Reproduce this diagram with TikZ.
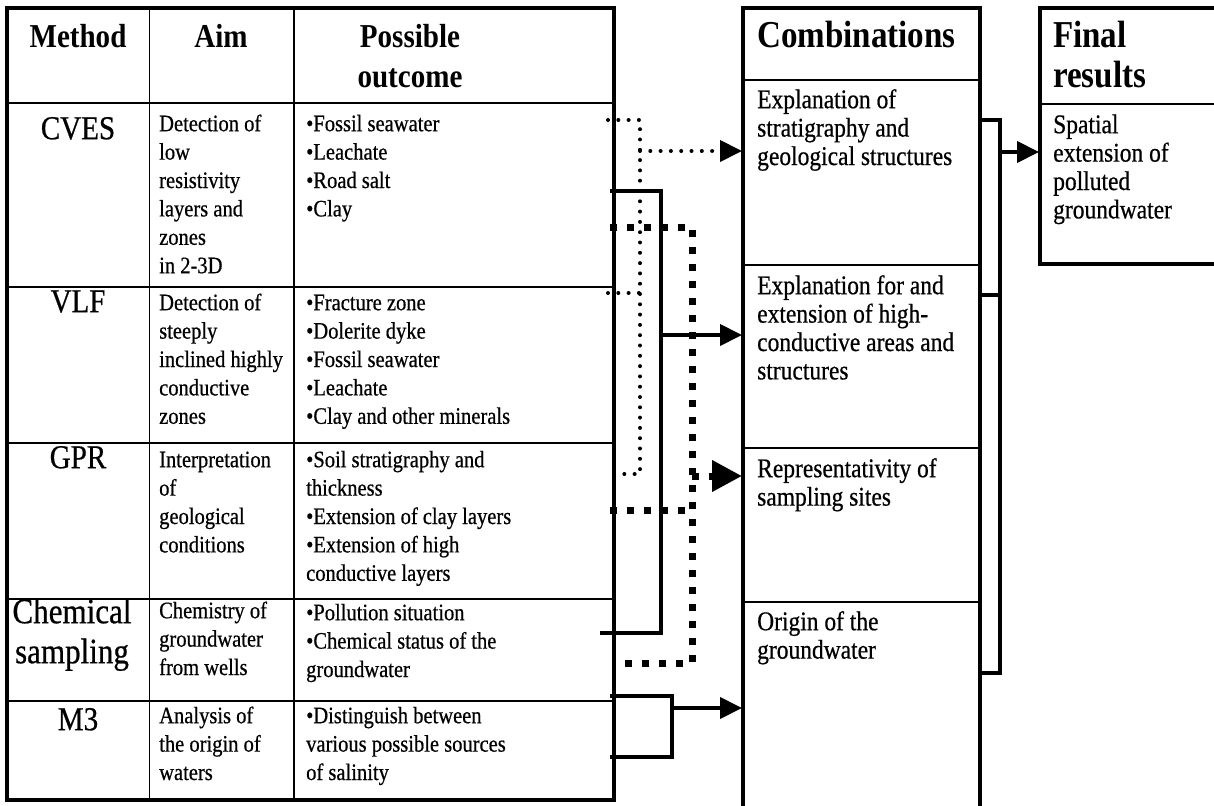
\documentclass[tikz,border=0pt]{standalone}
\usepackage{fontspec}
\setmainfont{Liberation Serif}[FakeStretch=0.87, UprightFeatures={FakeBold=0.6}]
\usetikzlibrary{arrows.meta}
\begin{document}
\begin{tikzpicture}[x=1pt,y=-1pt,
  thickln/.style={line width=4pt},
  thinln/.style={line width=1.4pt},
  bodyL/.style={font=\fontsize{23.6}{28.4}\selectfont, align=left, anchor=north west, inner sep=0pt, yshift=19.88pt},
  bodyR/.style={font=\fontsize{27}{28.4}\selectfont, align=left, anchor=north west, inner sep=0pt, yshift=19.88pt},
  headL/.style={font=\fontsize{33.4}{40}\selectfont\bfseries, align=center, anchor=north, inner sep=0pt, yshift=28pt},
  headR/.style={font=\fontsize{38}{40}\selectfont\bfseries, align=left, anchor=north west, inner sep=0pt, yshift=28pt},
  meth/.style={font=\fontsize{33.4}{40}\selectfont, align=center, anchor=north, inner sep=0pt, yshift=28pt},
  conn/.style={line width=4pt},
  dotln/.style={line width=4pt, line cap=round, dash pattern=on 0pt off 10.3pt},
  sqln/.style={line width=7pt, dash pattern=on 7pt off 10pt},
  tip/.style={-{Triangle[length=22pt,width=21pt]}},
  bigtip/.style={-{Triangle[length=30pt,width=30pt]}},
]
\useasboundingbox (0,0) rectangle (1214,805);

% ---------- left table ----------
\draw[thinln] (149.5,8) -- (149.5,800);
\draw[thinln] (294,8) -- (294,800);
\foreach \yy in {103,287,443,599,701} \draw[thinln] (7,\yy) -- (614,\yy);
\draw[thickln] (7,8) rectangle (614,800);

\node[headL] (hmethod) at (78,47) {\strut Method};
\node[headL] (haim) at (221,47) {\strut Aim};
\node[headL] (hout) at (410,47) {\strut Possible\\outcome};

\node[meth] (mcves) at (78,139) {\strut CVES};
\node[bodyL] (acves) at (159,131) {\strut Detection of\\low\\resistivity\\layers and\\zones\\in 2-3D};
\node[bodyL] (ocves) at (306,131) {\strut •Fossil seawater\\•Leachate\\•Road salt\\•Clay};

\node[meth] (mvlf) at (78,312) {\strut VLF};
\node[bodyL] (avlf) at (159,310) {\strut Detection of\\steeply\\inclined highly\\conductive\\zones};
\node[bodyL] (ovlf) at (306,310) {\strut •Fracture zone\\•Dolerite dyke\\•Fossil seawater\\•Leachate\\•Clay and other minerals};

\node[meth] (mgpr) at (78,468) {\strut GPR};
\node[bodyL] (agpr) at (159,467) {\strut Interpretation\\of\\geological\\conditions};
\node[bodyL] (ogpr) at (306,467) {\strut •Soil stratigraphy and\\thickness\\•Extension of clay layers\\•Extension of high\\conductive layers};

\node[meth, font=\fontsize{35.7}{40}\selectfont] (mchem) at (72,623) {\strut Chemical\\sampling};
\node[bodyL] (achem) at (159,618) {\strut Chemistry of\\groundwater\\from wells};
\node[bodyL] (ochem) at (306,620) {\strut •Pollution situation\\•Chemical status of the\\groundwater};

\node[meth] (mm3) at (78,730) {\strut M3};
\node[bodyL] (am3) at (159,723) {\strut Analysis of\\the origin of\\waters};
\node[bodyL] (om3) at (306,723) {\strut •Distinguish between\\various possible sources\\of salinity};

% ---------- combinations ----------
\foreach \yy in {80,265,448,602} \draw[thinln] (743,\yy) -- (980,\yy);
\draw[thickln] (743,812) -- (743,8) -- (980,8) -- (980,812);
\node[headR] (hcomb) at (757,47) {\strut Combinations};
\node[bodyR] (c1) at (757,108) {\strut Explanation of\\stratigraphy and\\geological structures};
\node[bodyR] (c2) at (757,294) {\strut Explanation for and\\extension of high-\\conductive areas and\\structures};
\node[bodyR] (c3) at (757,477) {\strut Representativity of\\sampling sites};
\node[bodyR] (c4) at (757,630) {\strut Origin of the\\groundwater};

% ---------- final results ----------
\draw[thinln] (1040,104) -- (1222,104);
\draw[thickln] (1222,8) -- (1040,8) -- (1040,264) -- (1222,264);
\node[headR] (hfin) at (1053,47) {\strut Final\\results};
\node[bodyR] (f1) at (1053,133) {\strut Spatial\\extension of\\polluted\\groundwater};

% ---------- connector coordinates ----------
\coordinate (dA) at (608,120);
\coordinate (dV) at (640,120);
\coordinate (dB) at (608,293);
\coordinate (dC) at (608,474);
\coordinate (dVb) at (640,474);
\coordinate (in1) at (742,151);

\coordinate (sA) at (610,191);
\coordinate (sV) at (661,191);
\coordinate (sVb) at (661,633);
\coordinate (sB) at (600,633);
\coordinate (in2) at (742,335);

\coordinate (qA) at (610,227);
\coordinate (qV) at (692,227);
\coordinate (qVb) at (692,663);
\coordinate (qB) at (625,663);
\coordinate (qC) at (610,510);
\coordinate (in3) at (742,476);

\coordinate (mA) at (610,696);
\coordinate (mV) at (672,696);
\coordinate (mVb) at (672,757);
\coordinate (mB) at (610,757);
\coordinate (in4) at (742,708);

\coordinate (bT) at (980,120);
\coordinate (bM) at (980,295);
\coordinate (bB) at (980,673);
\coordinate (bX) at (1000,120);
\coordinate (fin) at (1039,152);

% ---------- connectors ----------
\draw[conn] (sA) -- (sV) -- (sVb) -- (sB);
\draw[conn,tip] (sV |- in2) -- (in2);

\draw[sqln] (qA) -- (qV) -- (qVb) -- (qB);
\draw[sqln] (qC) -- (qC -| qV);
\draw[sqln,bigtip] (qV |- in3) -- (in3);

\draw[dotln] (dA) -- (dV) -- (dVb) -- (dC);
\draw[dotln] (dB) -- (dB -| dV);
\draw[dotln,tip] (dV |- in1) -- (in1);

\draw[conn] (mA) -- (mV) -- (mVb) -- (mB);
\draw[conn,tip] (mV |- in4) -- (in4);

\draw[conn] (bT) -- (bX) -- (bX |- bB) -- (bB);
\draw[conn] (bM) -- (bM -| bX);
\draw[conn,tip] (bX |- fin) -- (fin);
\end{tikzpicture}
\end{document}
